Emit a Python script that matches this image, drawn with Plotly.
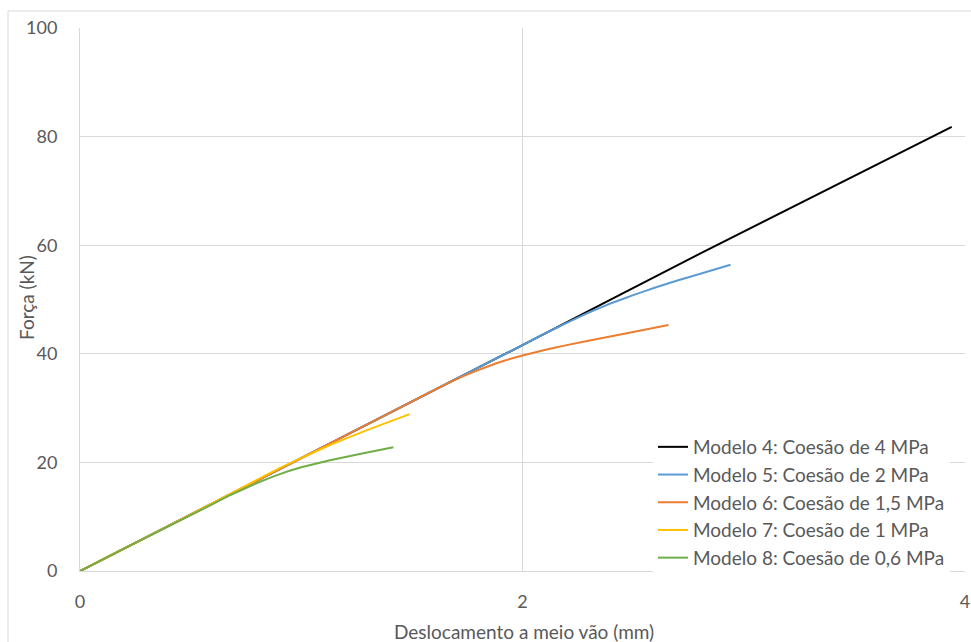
import plotly.graph_objects as go

# Midspan displacement (mm) and load (kN) per model
x_m4 = [0, 1.0, 2.0, 2.8, 3.94]
y_m4 = [0, 20.8, 41.6, 58.4, 81.8]

x_m5 = [0, 1.0, 2.0, 2.1, 2.2, 2.3, 2.4, 2.5, 2.6, 2.7, 2.8, 2.94]
y_m5 = [0, 20.8, 41.6, 43.7, 45.7, 47.6, 49.3, 50.8, 52.2, 53.5, 54.7, 56.4]

x_m6 = [0, 1.0, 1.5, 1.6, 1.7, 1.8, 1.9, 2.0, 2.1, 2.2, 2.35, 2.5, 2.66]
y_m6 = [0, 20.8, 31.2, 33.3, 35.3, 37.0, 38.5, 39.7, 40.7, 41.6, 42.8, 44.0, 45.3]

x_m7 = [0, 0.5, 0.9, 1.0, 1.13, 1.3, 1.49]
y_m7 = [0, 10.4, 18.9, 20.8, 23.2, 26.0, 28.9]

x_m8 = [0, 0.3, 0.55, 0.68, 0.8, 0.9, 1.0, 1.13, 1.27, 1.416]
y_m8 = [0, 6.2, 11.3, 14.0, 16.2, 17.8, 19.1, 20.4, 21.6, 22.8]

names = [
    "Modelo 4: Coesão de 4 MPa",
    "Modelo 5: Coesão de 2 MPa",
    "Modelo 6: Coesão de 1,5 MPa",
    "Modelo 7: Coesão de 1 MPa",
    "Modelo 8: Coesão de 0,6 MPa",
]
colors = ["#000000", "#5B9BD5", "#ED7D31", "#FFC000", "#70AD47"]
series = [(x_m4, y_m4), (x_m5, y_m5), (x_m6, y_m6), (x_m7, y_m7), (x_m8, y_m8)]

x_ticks = [0, 2, 4]
y_ticks = [0, 20, 40, 60, 80, 100]

FONT = "Lato, 'Open Sans', sans-serif"
GREY = "#595959"
GRID = "#d9d9d9"

# plot-area geometry in pixels (used for placing titles and legend)
W, H = 971, 642
L, R, T, B = 80, 6, 28, 71
PW, PH = W - L - R, H - T - B


def px_x(p):
    return (p - L) / PW


def px_y(p):
    return (H - B - p) / PH


fig = go.Figure()
for (xs, ys), name, col in zip(series, names, colors):
    fig.add_trace(go.Scatter(x=xs, y=ys, mode="lines", name=name,
                             line=dict(color=col, width=2, shape="spline", smoothing=0.3)))

fig.update_layout(
    width=W, height=H,
    margin=dict(l=L, r=R, t=T, b=B),
    paper_bgcolor="white", plot_bgcolor="white",
    font=dict(family=FONT, color=GREY),
    showlegend=True,
    legend=dict(
        x=px_x(653), xanchor="left", y=px_y(577), yanchor="bottom",
        bgcolor="white", borderwidth=0,
        font=dict(size=19, color=GREY, family=FONT),
        itemwidth=30, tracegroupgap=0,
    ),
    xaxis=dict(
        range=[0, 4], tickvals=x_ticks, ticktext=[str(v) for v in x_ticks],
        showgrid=True, gridcolor=GRID, gridwidth=1,
        zeroline=False, showline=True, linecolor=GRID,
        tickfont=dict(size=18, color=GREY), ticks="", ticklabelstandoff=14,
        automargin=False,
    ),
    yaxis=dict(
        range=[0, 100], tickvals=y_ticks, ticktext=[str(v) for v in y_ticks],
        showgrid=True, gridcolor=GRID, gridwidth=1,
        zeroline=False, showline=True, linecolor=GRID,
        tickfont=dict(size=18, color=GREY), ticks="", ticklabelstandoff=18,
        automargin=False,
    ),
    annotations=[
        dict(text="Deslocamento a meio vão (mm)", xref="paper", yref="paper",
             x=px_x(524), y=px_y(631), xanchor="center", yanchor="middle",
             showarrow=False, font=dict(size=19, color=GREY)),
        dict(text="Força (kN)", xref="paper", yref="paper", textangle=-90,
             x=px_x(26), y=px_y(298), xanchor="center", yanchor="middle",
             showarrow=False, font=dict(size=19, color=GREY)),
    ],
    shapes=[dict(type="rect", xref="paper", yref="paper",
                 x0=px_x(8), x1=px_x(990), y0=px_y(660), y1=px_y(11),
                 line=dict(color=GRID, width=1), layer="below")],
)

fig.write_html("out.html")
